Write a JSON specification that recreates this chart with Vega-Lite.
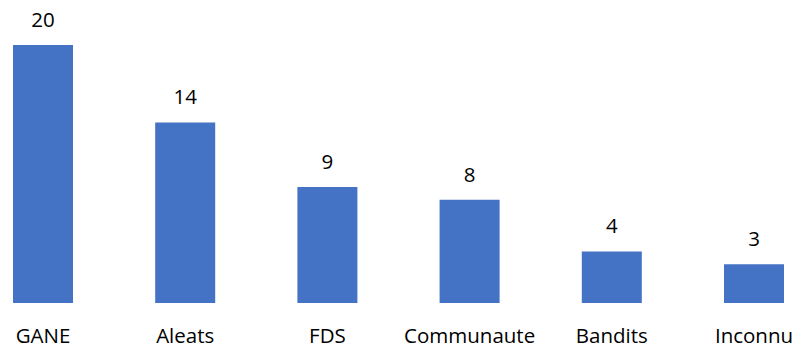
{
  "$schema": "https://vega.github.io/schema/vega-lite/v6.json",
  "autosize": {"type": "none"},
  "width": 797,
  "height": 258,
  "padding": {"left": 0, "top": 45, "right": 13, "bottom": 44},
  "background": "white",
  "data": {"values": [
    {"category": "GANE", "count": 20},
    {"category": "Aleats", "count": 14},
    {"category": "FDS", "count": 9},
    {"category": "Communaute", "count": 8},
    {"category": "Bandits", "count": 4},
    {"category": "Inconnu", "count": 3}
  ]},
  "encoding": {
    "x": {"field": "category", "type": "nominal", "sort": null,
      "scale": {"paddingInner": 0.578, "paddingOuter": 0.0914},
      "axis": {"title": null, "domain": false, "ticks": false, "tickSize": 0, "labelAngle": 0,
        "labelFont": "Open Sans", "labelFontSize": 20.5, "labelColor": "#000000",
        "labelBaseline": "alphabetic", "labelPadding": 39}},
    "y": {"field": "count", "type": "quantitative",
      "scale": {"domain": [0, 20], "nice": false, "zero": true},
      "axis": null}
  },
  "layer": [
    {"mark": {"type": "bar", "color": "#4472C4"}},
    {"mark": {"type": "text", "font": "Open Sans", "fontSize": 20.5, "color": "#000000",
      "baseline": "alphabetic", "dy": -18},
     "encoding": {"text": {"field": "count", "type": "quantitative"}}}
  ],
  "config": {"view": {"stroke": null}}
}
